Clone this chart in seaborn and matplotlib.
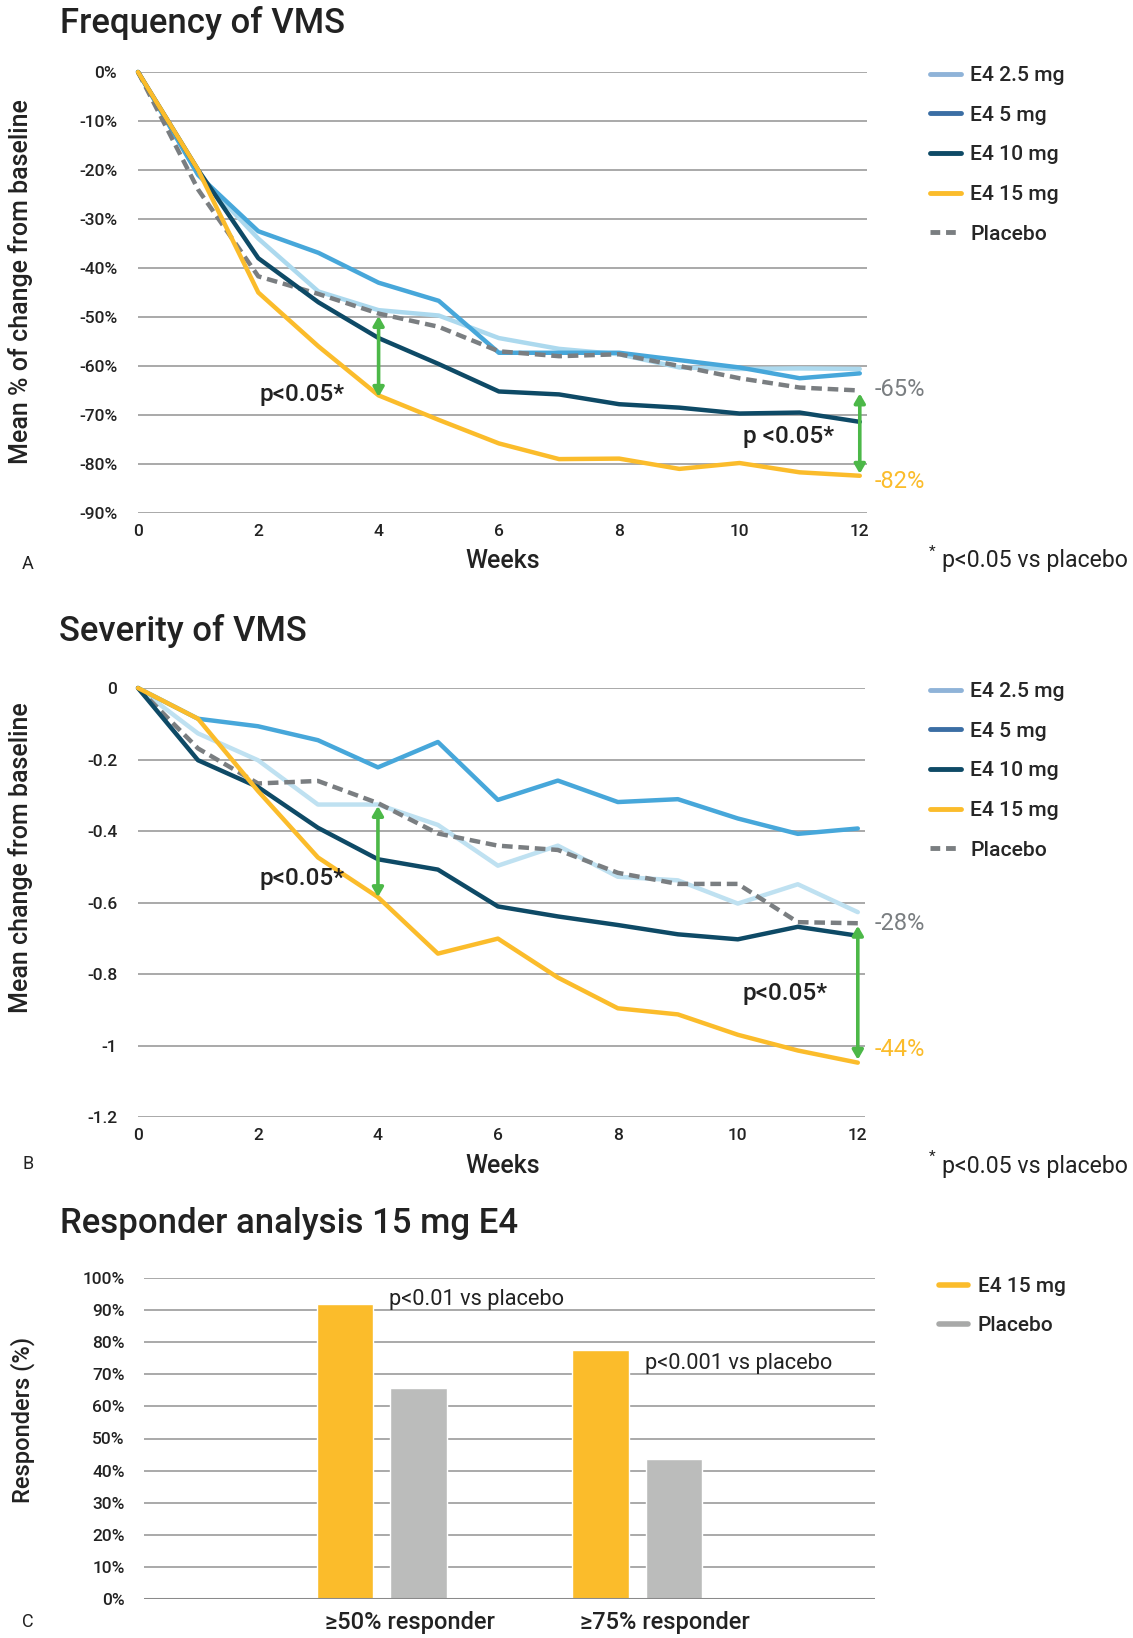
import matplotlib
matplotlib.use("Agg")
import matplotlib.pyplot as plt
import matplotlib.transforms as mtransforms
from matplotlib.lines import Line2D
import pandas as pd
import seaborn as sns

# ---- data ----
weeks = list(range(13))

freq_e4_2_5 = [0, -21, -34, -44.8, -48.6, -49.7, -54.3, -56.5, -57.6, -60.3, -60.6, -60.5, -60.6]
freq_e4_5 = [0, -21, -32.5, -36.9, -43.0, -46.7, -57.3, -57.3, -57.3, -58.8, -60.3, -62.5, -61.5]
freq_e4_10 = [0, -20, -38, -47, -54.3, -59.6, -65.2, -65.8, -67.8, -68.5, -69.7, -69.5, -71.4]
freq_e4_15 = [0, -20, -45, -56, -66, -71, -75.8, -79, -78.9, -81, -79.8, -81.7, -82.4]
freq_placebo = [0, -24, -41.7, -45.3, -49.3, -52, -57, -58, -57.6, -60, -62.5, -64.4, -65]

sev_e4_2_5 = [0, -0.127, -0.202, -0.326, -0.326, -0.383, -0.497, -0.441, -0.528, -0.538, -0.603, -0.549, -0.627]
sev_e4_5 = [0, -0.086, -0.107, -0.146, -0.222, -0.151, -0.313, -0.259, -0.319, -0.311, -0.365, -0.408, -0.393]
sev_e4_10 = [0, -0.202, -0.277, -0.391, -0.479, -0.508, -0.611, -0.639, -0.663, -0.689, -0.703, -0.668, -0.693]
sev_e4_15 = [0, -0.086, -0.288, -0.474, -0.585, -0.743, -0.701, -0.81, -0.896, -0.913, -0.97, -1.014, -1.048]
sev_placebo = [0, -0.169, -0.267, -0.26, -0.322, -0.407, -0.441, -0.453, -0.517, -0.548, -0.548, -0.655, -0.658]

resp_groups = ["≥50% responder", "≥75% responder"]
resp_e4_15 = [91.9, 77.6]
resp_placebo = [65.7, 43.7]

legend_labels = ["E4 2.5 mg", "E4 5 mg", "E4 10 mg", "E4 15 mg", "Placebo"]

# ---- style ----
C_LIGHT = "#acd9ee"
C_MED = "#47a7da"
C_NAVY = "#0e4a66"
C_YELLOW = "#fbbc2b"
C_GREY = "#7a7e81"
C_GREEN = "#4cb848"
C_BARGREY = "#bbbcbb"
LEG_COLORS = ["#8fb3d8", "#3b6ea4", C_NAVY, C_YELLOW, C_GREY]
TXT = "#222222"
GRID = "#a3a3a3"

sns.set_style("white")
plt.rcParams["font.family"] = ["Roboto", "DejaVu Sans"]

W, H = 1133, 1638
fig = plt.figure(figsize=(W / 100, H / 100), dpi=100)


def fx(px):
    return px / W


def fy(py):
    return 1 - py / H


def box(l, t, r, b):
    return [fx(l), fy(b), (r - l) / W, (b - t) / H]


def style_axes(ax, size, ypad=14, xpad=5):
    sns.despine(ax=ax, left=True, bottom=True)
    ax.yaxis.grid(True, color=GRID, lw=1.3)
    ax.xaxis.grid(False)
    ax.set_axisbelow(True)
    ax.tick_params(length=0, colors=TXT, labelsize=size)
    ax.tick_params(axis="y", pad=ypad)
    ax.tick_params(axis="x", pad=xpad)
    for t in ax.get_xticklabels() + ax.get_yticklabels():
        t.set_fontweight("medium")
    ax.set_xlabel("")
    ax.set_ylabel("")


def line_panel(ax, series, light_color):
    cols = [light_color, C_MED, C_NAVY, C_YELLOW, C_GREY]
    zs = [3, 4, 6, 7, 5]
    for idx, vals in enumerate(series):
        df = pd.DataFrame({"week": weeks, "value": vals})
        ls = (0, (2.4, 1.3)) if idx == 4 else "-"
        sns.lineplot(data=df, x="week", y="value", ax=ax, color=cols[idx], lw=3.2,
                     linestyle=ls, clip_on=False, solid_joinstyle="round", zorder=zs[idx])
    ax.set_xlim(0, 12.12)
    ax.set_xticks(range(0, 13, 2))


def legend_for(ax, top_px):
    handles = [Line2D([], [], color=c, lw=3.5, linestyle=(0, (2, 1.2)) if i == 4 else "-")
               for i, c in enumerate(LEG_COLORS)]
    ax.legend(handles, legend_labels, loc="upper left",
              bbox_to_anchor=(fx(930), fy(top_px)), bbox_transform=fig.transFigure,
              frameon=False, handlelength=1.45, handletextpad=0.45,
              labelspacing=0.98, borderaxespad=0, borderpad=0,
              prop={"weight": "medium", "size": 15.2})


def arrow(ax, x, y0, y1):
    ax.annotate("", xy=(x, y1), xytext=(x, y0),
                arrowprops=dict(arrowstyle="<|-|>,head_length=0.55,head_width=0.32",
                                color=C_GREEN, lw=2.6, shrinkA=0, shrinkB=0),
                zorder=8, annotation_clip=False)


def footnote(y_px):
    t = fig.text(fx(1128), fy(y_px), "p<0.05 vs placebo", fontsize=16.7, color=TXT,
                 ha="right", va="center")
    r = fig.canvas.get_renderer()
    left = t.get_window_extent(r).x0
    fig.text((left - 7) / W, fy(y_px - 9), "*", fontsize=11, color=TXT, ha="right", va="center")


# ---- Panel A ----
axA = fig.add_axes(box(138, 72, 867, 513))
line_panel(axA, [freq_e4_2_5, freq_e4_5, freq_e4_10, freq_e4_15, freq_placebo], C_LIGHT)
axA.set_ylim(-90, 0)
axA.set_yticks(range(-90, 1, 10))
axA.set_yticklabels([f"{v}%" for v in range(-90, 1, 10)])
style_axes(axA, 12.5, ypad=15, xpad=8)
arrow(axA, 4, -49.8, -66.3)
arrow(axA, 12, -65.6, -82.0)
legend_for(axA, 66)

fig.text(fx(60), fy(23), "Frequency of VMS", fontsize=25, fontweight="medium", color=TXT, va="center")
fig.text(fx(21), fy(282), "Mean % of change from baseline", rotation=90, fontsize=18,
         fontweight="medium", color=TXT, va="center", ha="center")
fig.text(fx(503), fy(561), "Weeks", fontsize=18, fontweight="medium", color=TXT, ha="center", va="center")
fig.text(fx(28), fy(564), "A", fontsize=13, color=TXT, ha="center", va="center")
fig.text(fx(302), fy(395), "p<0.05*", fontsize=17.5, fontweight="medium", color=TXT, ha="center", va="center")
fig.text(fx(789), fy(437), "p <0.05*", fontsize=17.5, fontweight="medium", color=TXT, ha="center", va="center")
fig.text(fx(875), fy(389), "-65%", fontsize=17, color=C_GREY, va="center")
fig.text(fx(875), fy(481), "-82%", fontsize=17, color=C_YELLOW, va="center")
footnote(561)

# ---- Panel B ----
axB = fig.add_axes(box(138, 688, 865, 1117))
line_panel(axB, [sev_e4_2_5, sev_e4_5, sev_e4_10, sev_e4_15, sev_placebo], "#bfe1f1")
axB.set_ylim(-1.2, 0)
axB.set_yticks([0, -0.2, -0.4, -0.6, -0.8, -1.0, -1.2])
axB.set_yticklabels(["0", "-0.2", "-0.4", "-0.6", "-0.8", "-1", "-1.2"])
style_axes(axB, 12.5, ypad=15, xpad=8)
arrow(axB, 4, -0.33, -0.585)
arrow(axB, 12, -0.665, -1.04)
legend_for(axB, 682)

fig.text(fx(59), fy(631), "Severity of VMS", fontsize=25, fontweight="medium", color=TXT, va="center")
fig.text(fx(21), fy(858), "Mean change from baseline", rotation=90, fontsize=18,
         fontweight="medium", color=TXT, va="center", ha="center")
fig.text(fx(503), fy(1166), "Weeks", fontsize=18, fontweight="medium", color=TXT, ha="center", va="center")
fig.text(fx(28), fy(1164), "B", fontsize=13, color=TXT, ha="center", va="center")
fig.text(fx(302), fy(879), "p<0.05*", fontsize=17.5, fontweight="medium", color=TXT, ha="center", va="center")
fig.text(fx(785), fy(994), "p<0.05*", fontsize=17.5, fontweight="medium", color=TXT, ha="center", va="center")
fig.text(fx(875), fy(923), "-28%", fontsize=17, color=C_GREY, va="center")
fig.text(fx(875), fy(1050), "-44%", fontsize=17, color=C_YELLOW, va="center")
footnote(1166)

# ---- Panel C ----
axC = fig.add_axes(box(144, 1278, 875, 1599))
resp_df = pd.DataFrame({
    "group": resp_groups * 2,
    "treatment": ["E4 15 mg"] * 2 + ["Placebo"] * 2,
    "value": resp_e4_15 + resp_placebo,
})
sns.barplot(data=resp_df, x="group", y="value", hue="treatment", ax=axC,
            palette=[C_YELLOW, C_BARGREY], saturation=1, width=0.576, gap=0.236,
            legend=False, zorder=3)
axC.set_xlim(-0.93, 1.93)
axC.set_ylim(0, 100)
axC.set_yticks(range(0, 101, 10))
axC.set_yticklabels([f"{v}%" for v in range(0, 101, 10)])
style_axes(axC, 12.5, ypad=14, xpad=9)
axC.tick_params(axis="x", labelsize=17)
axC.axhline(0, color="#8a8a8a", lw=2.2, zorder=4)
shift = mtransforms.ScaledTranslation(28 / 100, 0, fig.dpi_scale_trans)
for t in axC.get_xticklabels():
    t.set_transform(t.get_transform() + shift)
    t.set_fontweight("medium")

fig.text(fx(389), fy(1300), "p<0.01 vs placebo", fontsize=15.7, color=TXT, va="center")
fig.text(fx(645), fy(1363), "p<0.001 vs placebo", fontsize=15.7, color=TXT, va="center")
handlesC = [Line2D([], [], color=C_YELLOW, lw=4), Line2D([], [], color="#a8a9a8", lw=4)]
axC.legend(handlesC, ["E4 15 mg", "Placebo"], loc="upper left",
           bbox_to_anchor=(fx(939), fy(1277)), bbox_transform=fig.transFigure,
           frameon=False, handlelength=1.4, handletextpad=0.45, labelspacing=0.95,
           borderaxespad=0, borderpad=0, prop={"weight": "medium", "size": 15})

fig.text(fx(60), fy(1224), "Responder analysis 15 mg E4", fontsize=25, fontweight="medium",
         color=TXT, va="center")
fig.text(fx(23), fy(1420), "Responders (%)", rotation=90, fontsize=17,
         fontweight="medium", color=TXT, va="center", ha="center")
fig.text(fx(28), fy(1622), "C", fontsize=13, color=TXT, ha="center", va="center")

fig.savefig("out.png", dpi=100)
